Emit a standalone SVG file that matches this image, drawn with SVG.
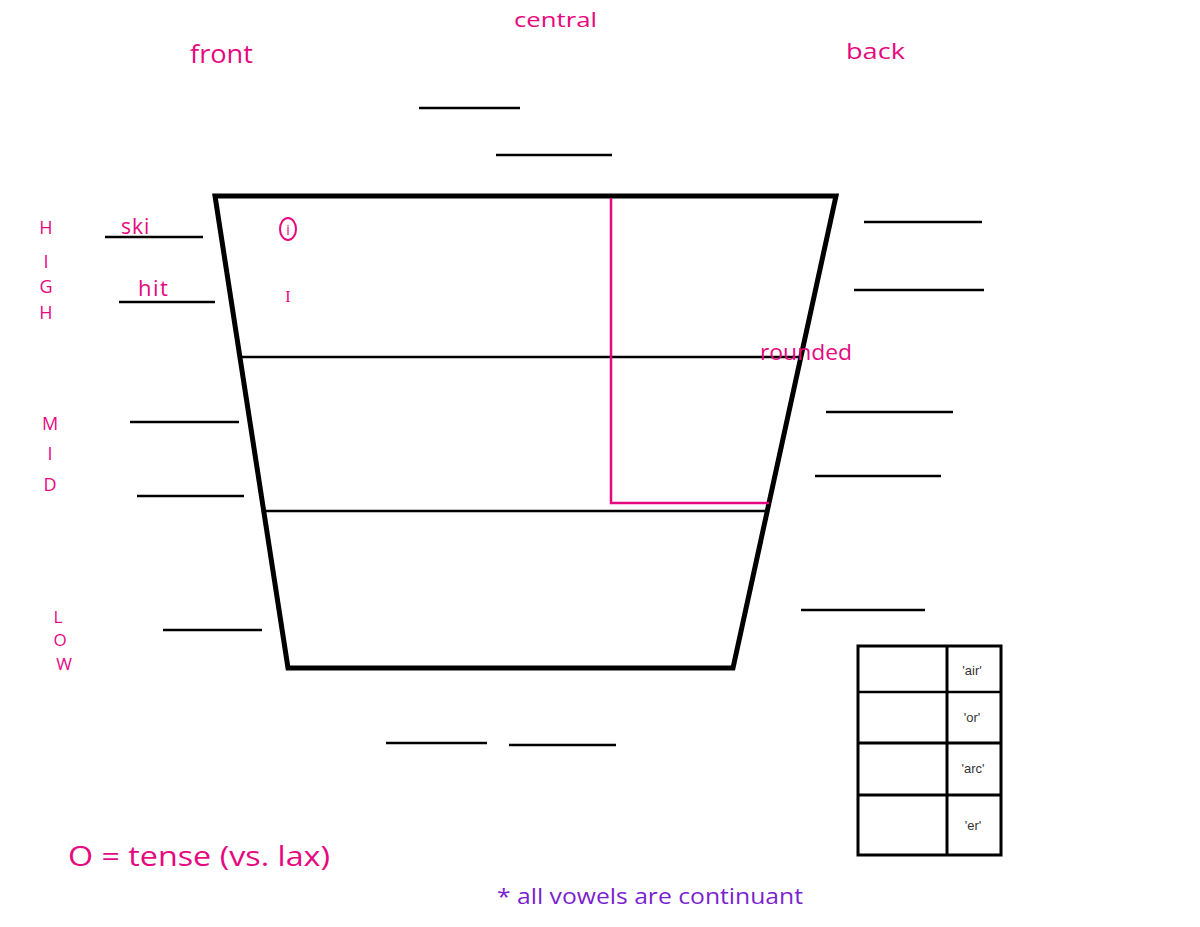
<svg xmlns="http://www.w3.org/2000/svg" width="1200" height="927" viewBox="0 0 1200 927">
<style>
.pk{fill:#e6087f;font-family:"Open Sans","Liberation Sans",sans-serif;}
.blank{stroke:#000;stroke-width:2.5;fill:none;}
.tb{fill:#333;font-family:"Liberation Sans",Arial,sans-serif;font-size:13px;text-anchor:middle;}
</style>
<rect width="1200" height="927" fill="#fff"/>
<g id="headings">
<text class="pk" x="190" y="63" font-size="25" textLength="63" lengthAdjust="spacingAndGlyphs">front</text>
<text class="pk" x="514" y="27" font-size="20" textLength="83" lengthAdjust="spacingAndGlyphs">central</text>
<text class="pk" x="846" y="59" font-size="22" textLength="59" lengthAdjust="spacingAndGlyphs">back</text>
</g>
<g id="height-labels" class="pk" font-size="18" text-anchor="middle">
<text x="46" y="234">H</text>
<text x="46" y="268">I</text>
<text x="46" y="293">G</text>
<text x="46" y="319">H</text>
<text x="50" y="430">M</text>
<text x="50" y="460">I</text>
<text x="50" y="491">D</text>
<text x="58" y="623" font-size="17">L</text>
<text x="60" y="646" font-size="17">O</text>
<text x="64" y="670" font-size="17">W</text>
</g>
<g id="chart">
<polygon points="215,196 836,196 733,668 288,668" fill="none" stroke="#000" stroke-width="5" stroke-linejoin="miter"/>
<line x1="240" y1="357" x2="801" y2="357" stroke="#000" stroke-width="2.5"/>
<line x1="264" y1="511" x2="767" y2="511" stroke="#000" stroke-width="2.5"/>
<polyline points="611,198 611,503 769,503" fill="none" stroke="#e6087f" stroke-width="2.5"/>
</g>
<g id="vowels">
<ellipse cx="288" cy="229" rx="8" ry="11" fill="none" stroke="#e6087f" stroke-width="2"/>
<text class="pk" x="288" y="235" font-size="14" text-anchor="middle">i</text>
<text x="288" y="302" font-size="16" fill="#e6087f" font-family="Liberation Serif,serif" text-anchor="middle">I</text>
<text class="pk" x="760" y="360" font-size="22" textLength="92" lengthAdjust="spacingAndGlyphs">rounded</text>
</g>
<g id="blanks" class="blank">
<line x1="105" y1="237" x2="203" y2="237"/>
<line x1="119" y1="302" x2="215" y2="302"/>
<line x1="130" y1="422" x2="239" y2="422"/>
<line x1="137" y1="496" x2="244" y2="496"/>
<line x1="163" y1="630" x2="262" y2="630"/>
<line x1="864" y1="222" x2="982" y2="222"/>
<line x1="854" y1="290" x2="984" y2="290"/>
<line x1="826" y1="412" x2="953" y2="412"/>
<line x1="815" y1="476" x2="941" y2="476"/>
<line x1="801" y1="610" x2="925" y2="610"/>
<line x1="419" y1="108" x2="520" y2="108"/>
<line x1="496" y1="155" x2="612" y2="155"/>
<line x1="386" y1="743" x2="487" y2="743"/>
<line x1="509" y1="745" x2="616" y2="745"/>
</g>
<g id="examples" class="pk">
<text x="121" y="234" font-size="21" letter-spacing="1">ski</text>
<text x="138" y="296" font-size="22" letter-spacing="1.5">hit</text>
</g>
<g id="table">
<rect x="858" y="646" width="143" height="209" fill="none" stroke="#000" stroke-width="3"/>
<line x1="947" y1="646" x2="947" y2="855" stroke="#000" stroke-width="3"/>
<line x1="858" y1="692" x2="1001" y2="692" stroke="#000" stroke-width="2.5"/>
<line x1="858" y1="743" x2="1001" y2="743" stroke="#000" stroke-width="3"/>
<line x1="858" y1="795" x2="1001" y2="795" stroke="#000" stroke-width="3"/>
<text class="tb" x="972" y="675">'air'</text>
<text class="tb" x="972" y="722">'or'</text>
<text class="tb" x="973" y="773">'arc'</text>
<text class="tb" x="973" y="830">'er'</text>
</g>
<g id="legend">
<text class="pk" x="68" y="866" font-size="28" textLength="262" lengthAdjust="spacingAndGlyphs">O = tense (vs. lax)</text>
<text x="497" y="904" font-size="21" fill="#7b1fd1" font-family="Open Sans,Liberation Sans,sans-serif" textLength="306" lengthAdjust="spacingAndGlyphs">* all vowels are continuant</text>
</g>
</svg>
